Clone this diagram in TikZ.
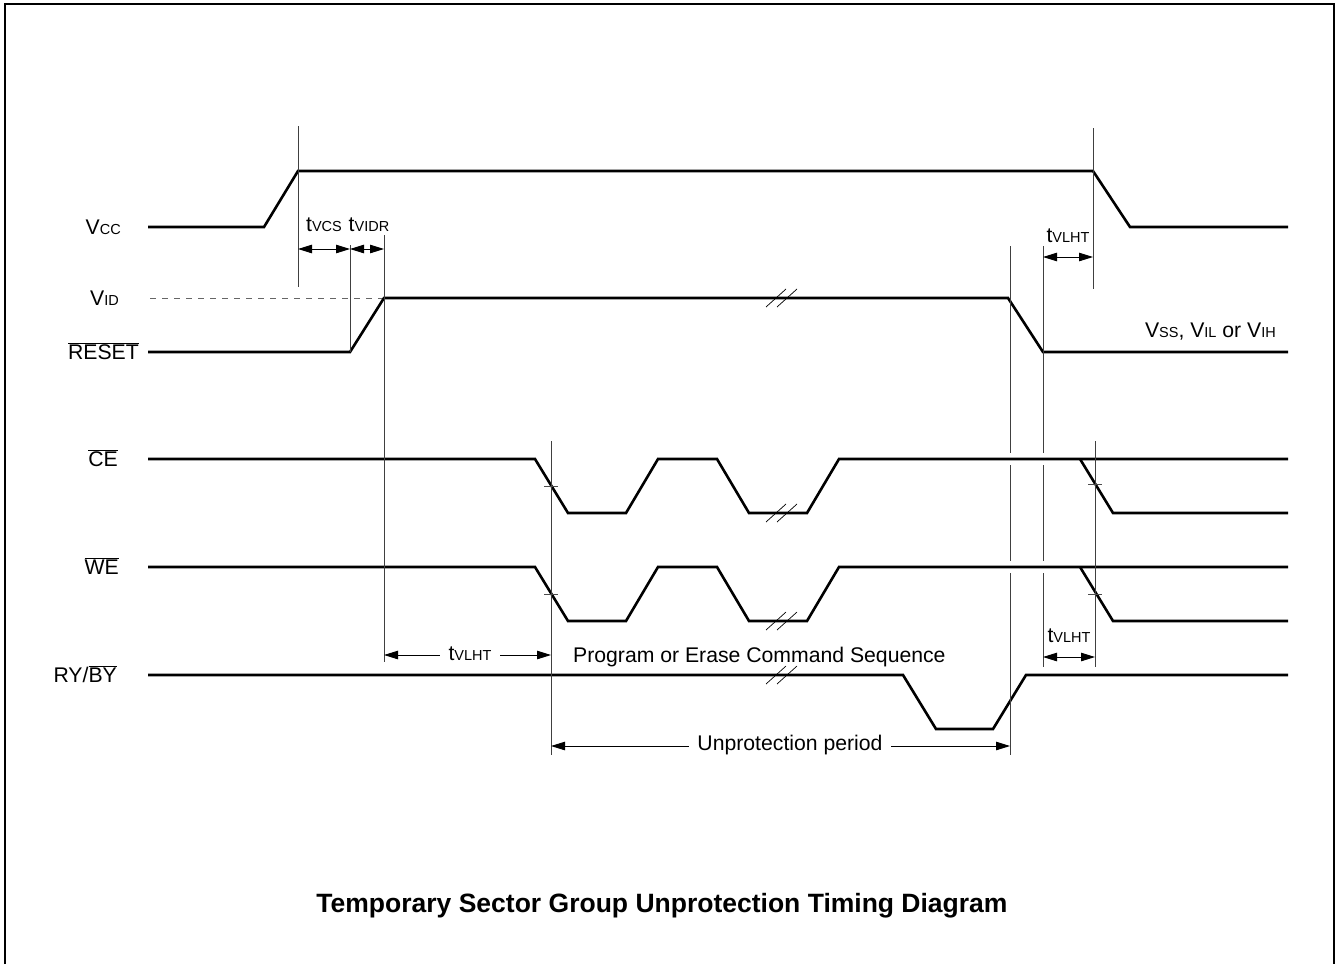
\documentclass[tikz,border=0pt]{standalone}
\usepackage{fontspec}
\setmainfont{Liberation Sans}
\usetikzlibrary{arrows.meta}
\newcommand\ovl[1]{$\overline{\hbox{#1}}$}
\newcommand\sm[1]{{\fontsize{14.5}{14.5}\selectfont #1}}
\begin{document}
\begin{tikzpicture}[x=1pt,y=-1pt,
  sig/.style={line width=2.6pt},
  refl/.style={line width=1pt, black!75},
  dimarr/.style={line width=0.9pt, {Triangle[length=14pt,width=8.5pt]}-{Triangle[length=14pt,width=8.5pt]}},
  brk/.style={line width=0.7pt},
  tick/.style={line width=0.8pt, black!70},
  lbl/.style={font=\fontsize{21.2}{21.2}\selectfont, inner sep=0pt, anchor=base east},
  txt/.style={font=\fontsize{21.2}{21.2}\selectfont, inner sep=2pt}]
\useasboundingbox (0,0) rectangle (1340,964);
\draw[line width=2pt] (5,964) -- (5,4) -- (1334,4) -- (1334,964);
% labels
\node[lbl] (lvcc) at (121,234) {V\sm{CC}};
\node[lbl] (lvid) at (119,305) {V\sm{ID}};
\node[lbl] (lres) at (139,359) {\ovl{RESET}};
\node[lbl] (lce) at (118,466) {\ovl{CE}};
\node[lbl] (lwe) at (119,574) {\ovl{WE}};
\node[lbl] (lry) at (117,682) {RY/\ovl{BY}};
\node[lbl] (lvss) at (1276,337) {V\sm{SS}, V\sm{IL} or V\sm{IH}};
% signals
\draw[sig] (148,227) -- (264,227) -- (298,171) -- (1093,171) -- (1130,227) -- (1288,227);
\draw[line width=1pt, black!60, dash pattern=on 6pt off 6pt] (150,298) -- (384,298);
\draw[sig] (148,352) -- (350,352) -- (384,298) -- (1008,298) -- (1043,352) -- (1288,352);
\draw[sig] (148,459) -- (535,459) -- (568,513) -- (626,513) -- (658,459) -- (717,459) -- (749,513) -- (807,513) -- (839,459) -- (1288,459);
\draw[sig] (1080,459) -- (1113,513) -- (1288,513);
\draw[sig] (148,567) -- (535,567) -- (568,621) -- (626,621) -- (658,567) -- (717,567) -- (749,621) -- (807,621) -- (839,567) -- (1288,567);
\draw[sig] (1080,567) -- (1113,621) -- (1288,621);
\draw[sig] (148,675) -- (903,675) -- (936,729) -- (993,729) -- (1026,675) -- (1288,675);
% breaks
\foreach \yy in {298,513,621,675}{
  \draw[brk] (766,\yy+9) -- (786,\yy-9);
  \draw[brk] (777,\yy+9) -- (797,\yy-9);
}
% reference verticals
\draw[refl] (298,126) -- (298,287);
\draw[refl] (350,245) -- (350,352);
\draw[refl] (384,235) -- (384,662);
\draw[refl] (1093,128) -- (1093,289);
\draw[refl] (551,441) -- (551,755);
\draw[refl] (1095,441) -- (1095,667);
\foreach \xx/\yb in {1010/755,1043/667}{
  \draw[refl] (\xx,246) -- (\xx,453);
  \draw[refl] (\xx,465) -- (\xx,561);
  \draw[refl] (\xx,573) -- (\xx,\yb);
}
% ticks
\draw[tick] (544,486) -- (558,486);
\draw[tick] (544,594) -- (558,594);
\draw[tick] (1088,484) -- (1102,484);
\draw[tick] (1088,594) -- (1102,594);
% dimensions
\coordinate (a1) at (298,249);
\coordinate (a2) at (350,249);
\coordinate (a3) at (384,249);
\draw[dimarr] (a1) -- (a2);
\draw[dimarr] (a2) -- (a3);
\node[txt] (tvcs) at (324,225) {t\sm{VCS}};
\node[txt] (tvidr) at (369,225) {t\sm{VIDR}};
\coordinate (b1) at (1043,257);
\coordinate (b2) at (1093,257);
\draw[dimarr] (b1) -- (b2);
\node[txt] (tv1) at (1068,236) {t\sm{VLHT}};
\coordinate (c1) at (1043,657);
\coordinate (c2) at (1095,657);
\draw[dimarr] (c1) -- (c2);
\node[txt] (tv2) at (1069,636) {t\sm{VLHT}};
\coordinate (d1) at (384,655);
\coordinate (d2) at (551,655);
\draw[dimarr] (d1) -- (d2);
\node[txt, fill=white, inner xsep=9pt] (tv3) at (470,654) {t\sm{VLHT}};
\coordinate (e1) at (551,746);
\coordinate (e2) at (1010,746);
\draw[dimarr] (e1) -- (e2);
\node[txt, fill=white, inner xsep=8pt] (up) at (790,745) {Unprotection period};
\node[txt, anchor=base west, inner sep=0pt] (pecs) at (573,662) {Program or Erase Command Sequence};
\node[font=\bfseries\fontsize{26.5}{26.5}\selectfont, anchor=base] (title) at (662,912) {Temporary Sector Group Unprotection Timing Diagram};
\end{tikzpicture}
\end{document}
